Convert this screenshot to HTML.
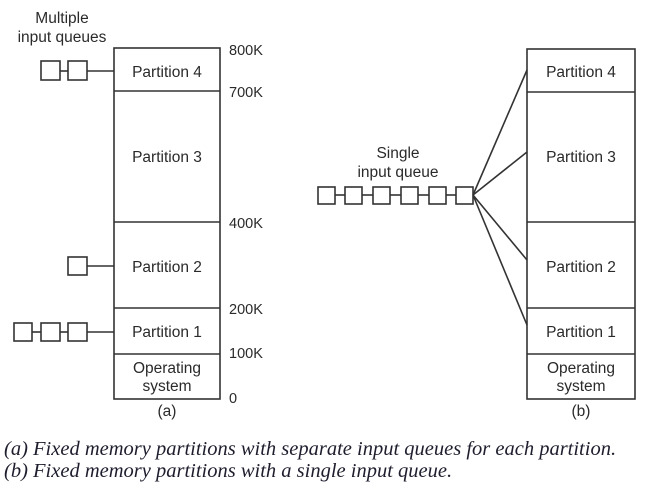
<!DOCTYPE html>
<html><head><style>
body{margin:0;background:#fff;width:652px;height:493px;overflow:hidden}
svg text{font-family:"Liberation Sans",sans-serif;fill:#2a2a2a}
.cap{position:absolute;left:4px;font-family:"Liberation Serif",serif;font-style:italic;font-size:20.5px;color:#1e1e2e;white-space:nowrap}
</style></head><body>
<svg width="652" height="493" style="position:absolute;left:0;top:0" stroke="#333" stroke-width="1.6" fill="none">
<rect x="114" y="48" width="106" height="351"/>
<line x1="114" y1="91" x2="220" y2="91"/>
<line x1="114" y1="222" x2="220" y2="222"/>
<line x1="114" y1="308" x2="220" y2="308"/>
<line x1="114" y1="354" x2="220" y2="354"/>
<rect x="41" y="61" width="19" height="19"/><rect x="68" y="61" width="19" height="19"/>
<line x1="60" y1="71" x2="68" y2="71"/><line x1="87" y1="71" x2="114" y2="71"/>
<rect x="68" y="257" width="19" height="18"/><line x1="87" y1="266" x2="114" y2="266"/>
<rect x="14" y="323" width="18" height="18"/><rect x="41" y="323" width="19" height="18"/><rect x="68" y="323" width="19" height="18"/>
<line x1="32" y1="332" x2="41" y2="332"/><line x1="60" y1="332" x2="68" y2="332"/><line x1="87" y1="332" x2="114" y2="332"/>
<rect x="527" y="49" width="108" height="350"/>
<line x1="527" y1="92" x2="635" y2="92"/>
<line x1="527" y1="222" x2="635" y2="222"/>
<line x1="527" y1="308" x2="635" y2="308"/>
<line x1="527" y1="354" x2="635" y2="354"/>
<rect x="318" y="187" width="17" height="17"/><rect x="345" y="187" width="17" height="17"/><rect x="373" y="187" width="17" height="17"/><rect x="401" y="187" width="17" height="17"/><rect x="429" y="187" width="17" height="17"/><rect x="456" y="187" width="17" height="17"/>
<line x1="335" y1="195" x2="345" y2="195"/><line x1="362" y1="195" x2="373" y2="195"/><line x1="390" y1="195" x2="401" y2="195"/><line x1="418" y1="195" x2="429" y2="195"/><line x1="446" y1="195" x2="456" y2="195"/>
<line x1="473" y1="195" x2="527" y2="70"/>
<line x1="473" y1="195" x2="527" y2="152"/>
<line x1="473" y1="195" x2="527" y2="260"/>
<line x1="473" y1="195" x2="527" y2="325"/>
<g stroke="none" font-size="15.5" text-anchor="middle">
<text x="62" y="23">Multiple</text><text x="62" y="42">input queues</text>
<text x="167" y="77">Partition 4</text>
<text x="167" y="162">Partition 3</text>
<text x="167" y="272">Partition 2</text>
<text x="167" y="337">Partition 1</text>
<text x="167" y="373">Operating</text><text x="167" y="391">system</text>
<text x="581" y="77">Partition 4</text>
<text x="581" y="162">Partition 3</text>
<text x="581" y="272">Partition 2</text>
<text x="581" y="337">Partition 1</text>
<text x="581" y="373">Operating</text><text x="581" y="391">system</text>
<text x="398" y="158">Single</text><text x="398" y="177">input queue</text>
<text x="167" y="416">(a)</text><text x="581" y="416">(b)</text>
</g>
<g stroke="none" font-size="14.5">
<text x="229" y="55">800K</text><text x="229" y="97">700K</text>
<text x="229" y="228">400K</text><text x="229" y="314">200K</text>
<text x="229" y="358">100K</text><text x="229" y="403">0</text>
</g>
</svg>
<div class="cap" style="top:438px">(a) Fixed memory partitions with separate input queues for each partition.</div>
<div class="cap" style="top:460px">(b) Fixed memory partitions with a single input queue.</div>
</body></html>
